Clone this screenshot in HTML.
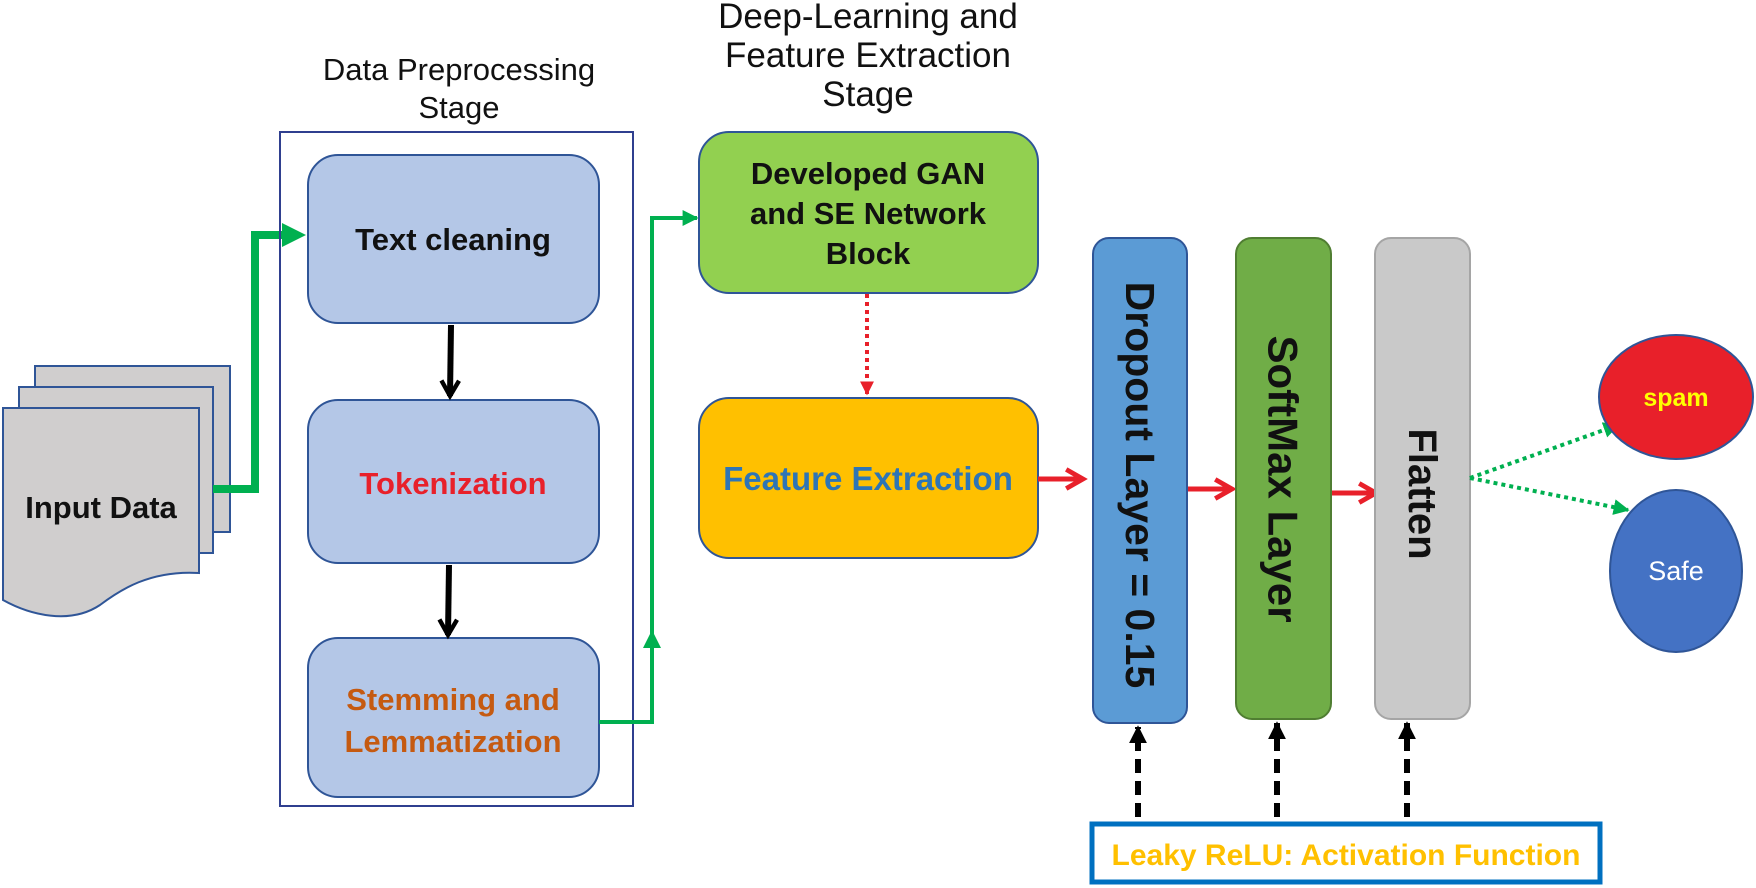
<!DOCTYPE html>
<html><head><meta charset="utf-8"><style>
html,body{margin:0;padding:0;background:#fff;}
svg{display:block;}
text{font-family:"Liberation Sans",sans-serif;}
</style></head><body>
<svg width="1756" height="888" viewBox="0 0 1756 888" xmlns="http://www.w3.org/2000/svg">
<defs>
<marker id="ab" viewBox="0 0 10 10" markerWidth="22" markerHeight="22" refX="8" refY="5" orient="auto" markerUnits="userSpaceOnUse"><path d="M1,1 L8,5 L1,9" fill="none" stroke="#000" stroke-width="2"/></marker>
<marker id="ar" viewBox="0 0 10 10" markerWidth="24" markerHeight="24" refX="8" refY="5" orient="auto" markerUnits="userSpaceOnUse"><path d="M1,1 L8,5 L1,9" fill="none" stroke="#e8202a" stroke-width="2"/></marker>
<marker id="ard" viewBox="0 0 10 10" markerWidth="14" markerHeight="14" refX="9" refY="5" orient="auto" markerUnits="userSpaceOnUse"><path d="M0,0 L10,5 L0,10 z" fill="#e8202a"/></marker>
<marker id="ak" viewBox="0 0 10 10" markerWidth="18" markerHeight="18" refX="9" refY="5" orient="auto" markerUnits="userSpaceOnUse"><path d="M0,0 L10,5 L0,10 z" fill="#000"/></marker>
<marker id="agd" viewBox="0 0 10 10" markerWidth="16" markerHeight="16" refX="9" refY="5" orient="auto" markerUnits="userSpaceOnUse"><path d="M0,0 L10,5 L0,10 z" fill="#00b050"/></marker>
</defs>

<!-- input docs -->
<rect x="35" y="366" width="195" height="166" fill="#d0cece" stroke="#2f5597" stroke-width="2"/>
<rect x="19" y="387" width="194" height="166" fill="#d0cece" stroke="#2f5597" stroke-width="2"/>
<path d="M3,408 L199,408 L199,573 C150,570 120,590 100,605 C70,625 30,615 3,600 Z" fill="#d0cece" stroke="#2f5597" stroke-width="2"/>
<text x="101" y="518" font-size="31" font-weight="bold" text-anchor="middle" fill="#111">Input Data</text>

<!-- green connector to text cleaning -->
<polyline points="213,489 255,489 255,235 285,235" fill="none" stroke="#00b050" stroke-width="8"/>
<path d="M282,223 L306,235 L282,247 Z" fill="#00b050"/>

<!-- preprocessing -->
<text x="459" y="80" font-size="31" text-anchor="middle" fill="#111">Data Preprocessing</text>
<text x="459" y="118" font-size="31" text-anchor="middle" fill="#111">Stage</text>
<rect x="280" y="132" width="353" height="674" fill="none" stroke="#2f3f8f" stroke-width="2"/>
<rect x="308" y="155" width="291" height="168" rx="30" fill="#b4c7e7" stroke="#2f5597" stroke-width="2"/>
<text x="453" y="250" font-size="31" font-weight="bold" text-anchor="middle" fill="#111">Text cleaning</text>
<rect x="308" y="400" width="291" height="163" rx="30" fill="#b4c7e7" stroke="#2f5597" stroke-width="2"/>
<text x="453" y="494" font-size="31" font-weight="bold" text-anchor="middle" fill="#e8202a">Tokenization</text>
<rect x="308" y="638" width="291" height="159" rx="30" fill="#b4c7e7" stroke="#2f5597" stroke-width="2"/>
<text x="453" y="710" font-size="31" font-weight="bold" text-anchor="middle" fill="#c55a11">Stemming and</text>
<text x="453" y="752" font-size="31" font-weight="bold" text-anchor="middle" fill="#c55a11">Lemmatization</text>
<line x1="451" y1="325" x2="450" y2="396" stroke="#000" stroke-width="6" marker-end="url(#ab)"/>
<line x1="449" y1="565" x2="448" y2="635" stroke="#000" stroke-width="6" marker-end="url(#ab)"/>

<!-- green connector to GAN -->
<polyline points="599,722 652,722 652,218 697,218" fill="none" stroke="#00b050" stroke-width="4" marker-end="url(#agd)"/>
<path d="M643,648 L652,630 L661,648 Z" fill="#00b050"/>

<!-- DL stage -->
<text x="868" y="28" font-size="35" text-anchor="middle" fill="#111">Deep-Learning and</text>
<text x="868" y="67" font-size="35" text-anchor="middle" fill="#111">Feature Extraction</text>
<text x="868" y="106" font-size="35" text-anchor="middle" fill="#111">Stage</text>
<rect x="699" y="132" width="339" height="161" rx="30" fill="#92d050" stroke="#2f5597" stroke-width="2"/>
<text x="868" y="184" font-size="31" font-weight="bold" text-anchor="middle" fill="#111">Developed GAN</text>
<text x="868" y="224" font-size="31" font-weight="bold" text-anchor="middle" fill="#111">and SE Network</text>
<text x="868" y="264" font-size="31" font-weight="bold" text-anchor="middle" fill="#111">Block</text>
<line x1="867" y1="294" x2="867" y2="394" stroke="#e8202a" stroke-width="4" stroke-dasharray="4,4" marker-end="url(#ard)"/>
<rect x="699" y="398" width="339" height="160" rx="30" fill="#ffc000" stroke="#2f5597" stroke-width="2"/>
<text x="868" y="490" font-size="33" font-weight="bold" text-anchor="middle" fill="#2e75b6">Feature Extraction</text>

<!-- red arrows -->
<line x1="1038" y1="479" x2="1083" y2="479" stroke="#e8202a" stroke-width="5" marker-end="url(#ar)"/>
<line x1="1187" y1="489" x2="1232" y2="489" stroke="#e8202a" stroke-width="5" marker-end="url(#ar)"/>
<line x1="1331" y1="493" x2="1376" y2="493" stroke="#e8202a" stroke-width="5" marker-end="url(#ar)"/>

<!-- layers -->
<rect x="1093" y="238" width="94" height="485" rx="16" fill="#5b9bd5" stroke="#2f5597" stroke-width="2"/>
<text transform="translate(1140,485) rotate(90)" font-size="41" font-weight="bold" text-anchor="middle" dominant-baseline="central" fill="#111">Dropout Layer = 0.15</text>
<rect x="1236" y="238" width="95" height="481" rx="16" fill="#70ad47" stroke="#507e32" stroke-width="2"/>
<text transform="translate(1283,479) rotate(90)" font-size="42" font-weight="bold" text-anchor="middle" dominant-baseline="central" fill="#111">SoftMax Layer</text>
<rect x="1375" y="238" width="95" height="481" rx="16" fill="#c9c9c9" stroke="#a5a5a5" stroke-width="2"/>
<text transform="translate(1422,494) rotate(90)" font-size="40" font-weight="bold" text-anchor="middle" dominant-baseline="central" fill="#111">Flatten</text>

<!-- outputs -->
<line x1="1470" y1="478" x2="1618" y2="425" stroke="#00b050" stroke-width="4" stroke-dasharray="4,4" marker-end="url(#agd)"/>
<line x1="1470" y1="478" x2="1628" y2="510" stroke="#00b050" stroke-width="4" stroke-dasharray="4,4" marker-end="url(#agd)"/>
<ellipse cx="1676" cy="397" rx="77" ry="62" fill="#e8202a" stroke="#2f5597" stroke-width="2"/>
<text x="1676" y="406" font-size="25" font-weight="bold" text-anchor="middle" fill="#ffff00">spam</text>
<ellipse cx="1676" cy="571" rx="66" ry="81" fill="#4472c4" stroke="#2f5597" stroke-width="2"/>
<text x="1676" y="580" font-size="27" text-anchor="middle" fill="#fff">Safe</text>

<!-- leaky relu -->
<line x1="1138" y1="817" x2="1138" y2="727" stroke="#000" stroke-width="6" stroke-dasharray="14,8" marker-end="url(#ak)"/>
<line x1="1277" y1="817" x2="1277" y2="723" stroke="#000" stroke-width="6" stroke-dasharray="14,8" marker-end="url(#ak)"/>
<line x1="1407" y1="817" x2="1407" y2="723" stroke="#000" stroke-width="6" stroke-dasharray="14,8" marker-end="url(#ak)"/>
<rect x="1092" y="824" width="508" height="58" fill="#fff" stroke="#0070c0" stroke-width="5"/>
<text x="1346" y="865" font-size="30" font-weight="bold" text-anchor="middle" fill="#ffc000">Leaky ReLU: Activation Function</text>
</svg>
</body></html>
